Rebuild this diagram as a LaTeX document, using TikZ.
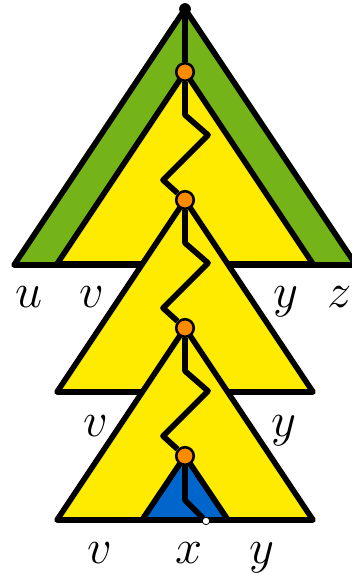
\documentclass[tikz,border=0pt]{standalone}
\usepackage{amsmath,amssymb}
\usetikzlibrary{backgrounds}
\definecolor{treegreen}{RGB}{117,180,25}
\definecolor{treeyellow}{RGB}{255,235,0}
\definecolor{treeblue}{RGB}{0,102,204}
\definecolor{treeorange}{RGB}{255,140,0}
\tikzset{
  junction/.style={
    shape = circle,
    inner sep = 0pt,
    minimum size = 9pt,
    line width = 1.3pt,
    draw,
    fill = treeorange
  },
  root/.style={
    shape = circle,
    inner sep = 0pt,
    minimum size = 6pt,
    fill
  },
  leaf/.style={
    shape = circle,
    inner sep = 0pt,
    minimum size = 3.8pt,
    draw,
    thin,
    fill = white
  },
  tri/.style={
    draw,
    line width = 2.9pt,
    line join = round
  },
  lbl/.style={
    anchor = base,
    inner sep = 0pt,
    font = \Huge
  }
}

\begin{document}
\begin{tikzpicture}[x=0.018cm,y=-0.018cm]
\useasboundingbox (0,0) rectangle (351,574);
\node[root] (r) at (185,9) {};
\node[junction] (n1) at (185,72) {};
\node[junction] (n2) at (185,200) {};
\node[junction] (n3) at (185,328) {};
\node[junction] (n4) at (185,456) {};
\node[leaf] (l) at (206,521) {};
\begin{scope}[on background layer]
  \filldraw[tri,fill=treegreen] (r.center) -- ++(-171,256) -- ++(342,0) -- cycle;
  \foreach \n in {n1,n2,n3}{
    \filldraw[tri,fill=treeyellow] (\n.center) -- ++(-128,192) -- ++(256,0) -- cycle;
  }
  \filldraw[tri,fill=treeblue] (n4.center) -- ++(-43,64) -- ++(86,0) -- cycle;
\end{scope}
\draw[tri] (r) -- (n1);
\foreach \a/\b in {n1/n2,n2/n3,n3/n4}{
  \draw[tri] (\a) -- ++(0,43) -- ++(23,20) -- ++(-45,45) -- (\b);
}
\draw[tri] (n4) -- ++(0,44) -- (l);
\node[lbl] (u1) at (29,307) {$u$};
\node[lbl] (v1) at (92,307) {$v$};
\node[lbl] (y1) at (286,307) {$y$};
\node[lbl] (z1) at (340,307) {$z$};
\node[lbl] (v2) at (96,436) {$v$};
\node[lbl] (y2) at (284,436) {$y$};
\node[lbl] (v3) at (100,563) {$v$};
\node[lbl] (x3) at (189,563) {$x$};
\node[lbl] (y3) at (262,563) {$y$};
\end{tikzpicture}
\end{document}
